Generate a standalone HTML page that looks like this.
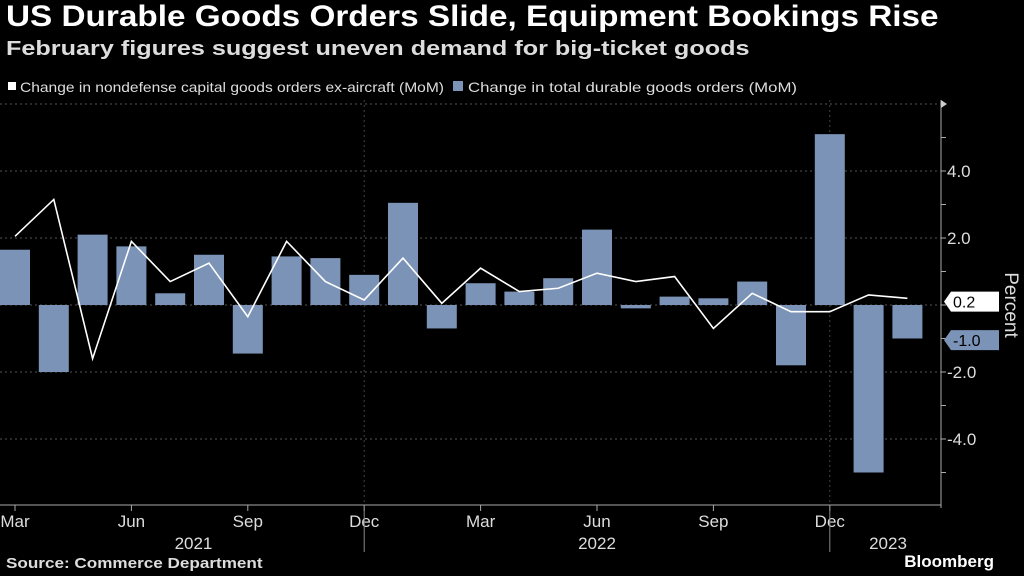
<!DOCTYPE html>
<html><head><meta charset="utf-8"><style>
body{margin:0;background:#000;width:1024px;height:576px;overflow:hidden;font-family:"Liberation Sans","DejaVu Sans",sans-serif;color:#fff}
.s{position:absolute;white-space:nowrap;transform-origin:0 0}
#title{left:6px;top:0px;font-size:30px;font-weight:bold;transform:scaleX(1.11)}
#sub{left:6px;top:38px;font-size:20px;font-weight:bold;color:#ddd;transform:scaleX(1.26)}
#src{left:6px;top:555px;font-size:15px;font-weight:bold;color:#ddd;transform:scaleX(1.14)}
#brand{right:30px;top:552px;font-size:17px;font-weight:bold}
</style></head><body>
<div id="title" class="s">US Durable Goods Orders Slide, Equipment Bookings Rise</div>
<div id="sub" class="s">February figures suggest uneven demand for big-ticket goods</div>
<div id="src" class="s">Source: Commerce Department</div>
<div id="brand" class="s">Bloomberg</div>
<svg id="chart" width="1024" height="576" style="position:absolute;left:0;top:0"></svg>
<script>
const months=["Mar","Apr","May","Jun","Jul","Aug","Sep","Oct","Nov","Dec","Jan","Feb","Mar","Apr","May","Jun","Jul","Aug","Sep","Oct","Nov","Dec","Jan","Feb"];
const durable=[1.65,-2.0,2.1,1.75,0.35,1.5,-1.45,1.45,1.4,0.9,3.05,-0.7,0.65,0.4,0.8,2.25,-0.1,0.25,0.2,0.7,-1.8,5.1,-5.0,-1.0];
const capex=[2.05,3.15,-1.6,1.9,0.7,1.25,-0.35,1.9,0.7,0.15,1.4,0.05,1.1,0.4,0.5,0.95,0.7,0.85,-0.7,0.35,-0.2,-0.2,0.3,0.2];
const yTicks=[4,2,0,-2,-4];
const yTickLabels=["4.0","2.0","","-2.0","-4.0"];
const xLabelIdx=[0,3,6,9,12,15,18,21];
const years=["2021","2022","2023"];
const yearIdx=[4.6,15,22.5];
const svg=document.getElementById('chart');
const NS='http://www.w3.org/2000/svg';
function mk(t,a,p){const e=document.createElementNS(NS,t);for(const k in a)e.setAttribute(k,a[k]);(p||svg).appendChild(e);return e;}
const x=i=>15+i*38.8;
const y=v=>305-v*33.5;
const axisX=941;
[6,4,2,0,-2,-4].forEach(v=>{const g=mk('line',{x1:0,x2:axisX,y1:y(v),y2:y(v),stroke:'#555','stroke-dasharray':'2,3'});

});
[9,21].forEach(i=>{const g=mk('line',{x1:x(i),x2:x(i),y1:100,y2:505,stroke:'#444','stroke-dasharray':'2,3'});

});
durable.forEach((v,i)=>{const r=mk('rect',{x:x(i)-15,width:30,y:Math.min(y(v),y(0)),height:Math.abs(y(v)-y(0)),fill:'#7b93b6'});

});
const pl=mk('polyline',{points:capex.map((v,i)=>x(i)+','+y(v)).join(' '),fill:'none',stroke:'#fff','stroke-width':1.6});


const ax=mk('line',{x1:axisX,x2:axisX,y1:100,y2:508,stroke:'#aaa'});


mk('path',{d:`M${axisX} 100 l6 4 l-6 4z`,fill:'#ccc'});
for(let v=-5;v<=5;v++){mk('line',{x1:axisX,x2:axisX+5,y1:y(v),y2:y(v),stroke:'#aaa'});}
yTicks.forEach((v,i)=>{const t=mk('text',{x:axisX+6,y:y(v)+6,fill:'#ddd','font-size':17});t.textContent=yTickLabels[i];

});
const yt=mk('text',{x:1005,y:305,fill:'#ddd','font-size':19,transform:'rotate(90 1005 305)','text-anchor':'middle'});yt.textContent='Percent';


function tag(v,fill,col,txt,name){const yy=y(v);const g=mk('g',{});


mk('path',{d:`M${axisX+3} ${yy} l7 -10 h${48} v20 h-48z`,fill:fill},g);
const t=mk('text',{x:axisX+12,y:yy+6,fill:col,'font-size':16},g);t.textContent=txt;}
tag(capex[23]-0.1,'#fff','#000',capex[23].toFixed(1),'capex-value-tag');
tag(durable[23]-0.05,'#7b93b6','#000',durable[23].toFixed(1),'durable-value-tag');
const xa=mk('line',{x1:0,x2:axisX,y1:505,y2:505,stroke:'#aaa'});


xLabelIdx.forEach(i=>{mk('line',{x1:x(i),x2:x(i),y1:505,y2:511,stroke:'#aaa'});
const t=mk('text',{x:x(i),y:527,fill:'#ddd','font-size':17,'text-anchor':'middle'});t.textContent=months[i];

});
[x(9),x(21)].forEach(xx=>mk('line',{x1:xx,x2:xx,y1:505,y2:552,stroke:'#888'}));
years.forEach((s,k)=>{const t=mk('text',{x:x(yearIdx[k]),y:549,fill:'#ddd','font-size':17,'text-anchor':'middle'});t.textContent=s;

});
const lg=mk('g',{});


mk('rect',{x:8,y:82,width:8,height:8,fill:'#fff'},lg);
let t1=mk('text',{x:20,y:92,fill:'#ddd','font-size':14,textLength:424,lengthAdjust:'spacingAndGlyphs'},lg);t1.textContent='Change in nondefense capital goods orders ex-aircraft (MoM)';
mk('rect',{x:453,y:81,width:10,height:10,fill:'#7b93b6'},lg);
let t2=mk('text',{x:468,y:92,fill:'#ddd','font-size':14,textLength:329,lengthAdjust:'spacingAndGlyphs'},lg);t2.textContent='Change in total durable goods orders (MoM)';
</script>
</body></html>
